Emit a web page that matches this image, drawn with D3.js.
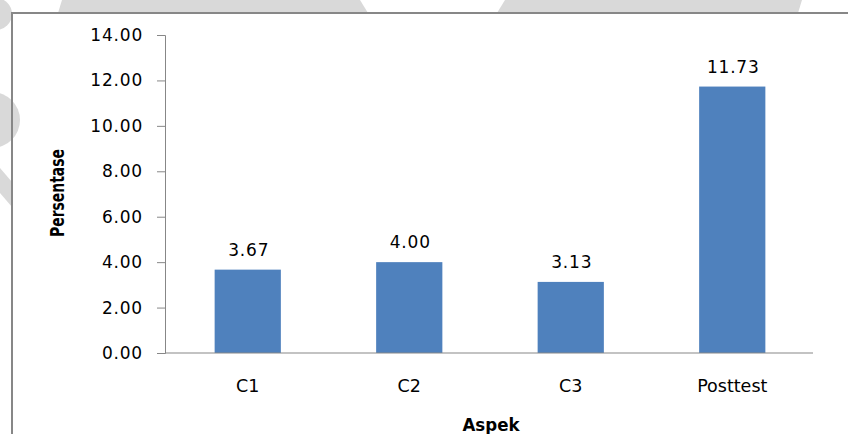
<!DOCTYPE html>
<html>
<head>
<meta charset="utf-8">
<script src="https://cdn.jsdelivr.net/npm/d3@7"></script>
<style>
  html, body { margin: 0; padding: 0; background: #fff; }
  svg { display: block; }
  text { font-family: "DejaVu Sans", Verdana, sans-serif; fill: #000; }
</style>
</head>
<body>
<svg id="chart" width="848" height="434"></svg>
<script>
// Data
const categories = ["C1", "C2", "C3", "Posttest"];
const values = [3.67, 4.00, 3.13, 11.73];
const yTicks = [0, 2, 4, 6, 8, 10, 12, 14];
const xTitle = "Aspek";
const yTitle = "Persentase";

const svg = d3.select("#chart");
const W = 848, H = 434;

// Faint page decoration behind the frame
const deco = svg.append("g").attr("fill", "#d9d9d9");
deco.append("path").attr("d", "M62,0 L360,0 L368,13 L58,13 Z");
deco.append("path").attr("d", "M505,0 L802,0 L798,13 L497,13 Z");
deco.append("circle").attr("cx", -4).attr("cy", 14).attr("r", 16);
deco.append("circle").attr("cx", -8).attr("cy", 120).attr("r", 28);
deco.append("path").attr("d", "M0,168 L12,182 L12,207 L0,193 Z");

// Frame
const frame = svg.append("g").attr("stroke", "#878787").attr("stroke-width", 2).attr("fill", "none");
frame.append("line").attr("x1", 12).attr("y1", 13).attr("x2", 848).attr("y2", 13);
frame.append("line").attr("x1", 12).attr("y1", 12).attr("x2", 12).attr("y2", H);

// Scales
const axisX = 165;
const y = d3.scaleLinear().domain([0, 14]).range([353, 35]);
const x = d3.scaleBand().domain(categories).range([167, 813])
  .paddingInner(0.59).paddingOuter(0.295);

const axisColor = "#878787";

// Y axis
const yAxis = svg.append("g")
  .attr("transform", `translate(${axisX},0)`)
  .call(d3.axisLeft(y).tickValues(yTicks).tickFormat(d3.format(".2f"))
    .tickSize(8).tickPadding(14).tickSizeOuter(8));
yAxis.select(".domain").attr("stroke", axisColor);
yAxis.selectAll(".tick line").attr("stroke", axisColor);
yAxis.selectAll(".tick text")
  .attr("font-size", 17)
  .attr("letter-spacing", "0.8px")
  .attr("fill", "#000");
yAxis.attr("font-family", null);

// Bars
svg.append("g").selectAll("rect")
  .data(values)
  .join("rect")
  .attr("x", (d, i) => x(categories[i]))
  .attr("y", d => y(d))
  .attr("width", x.bandwidth())
  .attr("height", d => y(0) - y(d))
  .attr("fill", "#4f81bd");

// X axis
const xAxis = svg.append("g")
  .attr("transform", `translate(0,${y(0)})`)
  .call(d3.axisBottom(x).tickSize(0).tickPadding(27));
xAxis.select(".domain").remove();
xAxis.append("line")
  .attr("x1", axisX).attr("x2", x.range()[1])
  .attr("stroke", axisColor);
xAxis.selectAll(".tick text")
  .attr("font-size", 17.5)
  .attr("fill", "#000");
xAxis.attr("font-family", null);

// Value labels
svg.append("g").selectAll("text")
  .data(values)
  .join("text")
  .attr("x", (d, i) => x(categories[i]) + x.bandwidth() / 2 + 1)
  .attr("y", d => y(d) - 14)
  .attr("text-anchor", "middle")
  .attr("font-size", 17)
  .attr("letter-spacing", "0.8px")
  .text(d => d.toFixed(2));

// Axis titles
svg.append("text")
  .attr("x", 491).attr("y", 431)
  .attr("text-anchor", "middle")
  .attr("font-weight", "bold")
  .attr("font-size", 18)
  .attr("textLength", 57)
  .attr("lengthAdjust", "spacingAndGlyphs")
  .text(xTitle);

svg.append("text")
  .attr("transform", "translate(64,193) rotate(-90)")
  .attr("text-anchor", "middle")
  .attr("font-weight", "bold")
  .attr("font-size", 20)
  .attr("textLength", 88)
  .attr("lengthAdjust", "spacingAndGlyphs")
  .text(yTitle);
</script>
</body>
</html>
